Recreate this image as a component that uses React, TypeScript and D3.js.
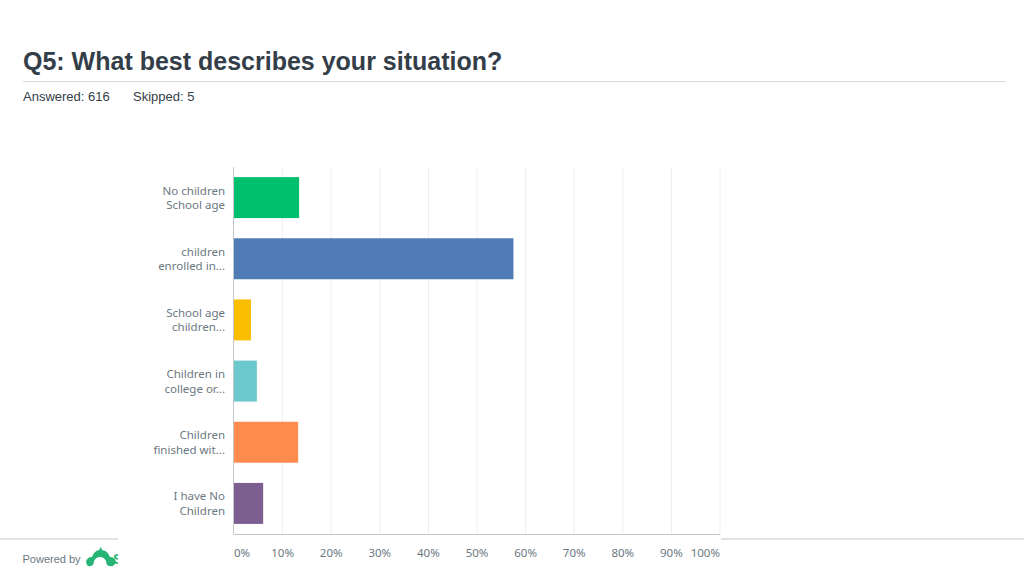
import * as d3 from 'd3';
import { useEffect, useRef } from 'react';

const categories = ['No children|School age', 'children|enrolled in...', 'School age|children...', 'Children in|college or...', 'Children|finished wit...', 'I have No|Children'];
const percents = [13.4, 57.5, 3.5, 4.7, 13.2, 6.0];
const barColors = ['#00bf6f', '#507cb6', '#f9be00', '#6bc8cd', '#ff8b4f', '#7d5e90'];
const ticks = [0, 10, 20, 30, 40, 50, 60, 70, 80, 90, 100];

const labelFont = '"Noto Sans", sans-serif';
const headFont = '"Liberation Sans", Arial, sans-serif';

export default function App() {
  const ref = useRef<SVGSVGElement>(null);

  useEffect(() => {
    const svg = d3.select(ref.current);
    svg.selectAll('*').remove();

    // Header
    svg.append('text').attr('x', 23).attr('y', 70)
      .attr('font-family', headFont).attr('font-size', 25).attr('font-weight', 700)
      .attr('fill', '#333e48').text('Q5: What best describes your situation?');
    svg.append('line').attr('x1', 23).attr('x2', 1006).attr('y1', 81.5).attr('y2', 81.5)
      .attr('stroke', '#d9d9d9');
    svg.append('text').attr('x', 23).attr('y', 101)
      .attr('font-family', headFont).attr('font-size', 13).attr('fill', '#333e48').text('Answered: 616');
    svg.append('text').attr('x', 133).attr('y', 101)
      .attr('font-family', headFont).attr('font-size', 13).attr('fill', '#333e48').text('Skipped: 5');

    // Footer
    svg.append('line').attr('x1', 0).attr('x2', 118).attr('y1', 539).attr('y2', 539)
      .attr('stroke', '#d9d9d9').attr('stroke-width', 1.5);
    svg.append('line').attr('x1', 721).attr('x2', 1024).attr('y1', 539).attr('y2', 539)
      .attr('stroke', '#d9d9d9').attr('stroke-width', 1.5);
    svg.append('text').attr('x', 22.5).attr('y', 563)
      .attr('font-family', headFont).attr('font-size', 11).attr('fill', '#6b787f').text('Powered by');

    const logo = svg.append('g').attr('fill', '#26b574');
    logo.append('path').attr('d', 'M86 562 q1 -5 6 -5 q2 -6 7 -7 l2 -3 l1 3 q6 1 8 7 q5 0 6 5 q-2 5 -6 4 q-4 0 -4 -5 q-2 -4 -6 -4 q-4 0 -6 4 q0 5 -4 5 q-3 1 -4 -4 z');
    svg.append('defs').append('clipPath').attr('id', 'logo-s')
      .append('rect').attr('x', 112).attr('y', 548).attr('width', 6).attr('height', 20);
    svg.append('text').attr('x', 113).attr('y', 564)
      .attr('clip-path', 'url(#logo-s)')
      .attr('font-family', headFont).attr('font-size', 14).attr('font-weight', 700)
      .attr('fill', '#26b574').text('S');

    // Chart
    const x = d3.scaleLinear().domain([0, 100]).range([234, 720]);
    const y = d3.scaleBand().domain(categories).range([167, 534]).paddingInner(0.33).paddingOuter(0.165);

    svg.append('g').selectAll('line').data(ticks.slice(1)).join('line')
      .attr('x1', d => x(d)).attr('x2', d => x(d)).attr('y1', 167).attr('y2', 534)
      .attr('stroke', '#eeeeee');

    svg.append('g').selectAll('rect').data(categories).join('rect')
      .attr('x', x(0))
      .attr('y', d => y(d))
      .attr('width', (_, i) => x(percents[i]) - x(0))
      .attr('height', y.bandwidth())
      .attr('fill', (_, i) => barColors[i]);

    svg.append('line').attr('x1', 233.5).attr('x2', 233.5).attr('y1', 167).attr('y2', 534)
      .attr('stroke', '#c4c8cb');
    svg.append('line').attr('x1', 233.5).attr('x2', 720).attr('y1', 534.5).attr('y2', 534.5)
      .attr('stroke', '#c4c8cb');

    // Category labels, two lines each
    const labels = svg.append('g').selectAll('text').data(categories).join('text')
      .attr('text-anchor', 'end')
      .attr('font-family', labelFont).attr('font-size', 11.5).attr('fill', '#6b787f');
    labels.each(function (d) {
      const mid = y(d)! + y.bandwidth() / 2;
      d3.select(this).selectAll('tspan').data(d.split('|')).join('tspan')
        .attr('x', 225)
        .attr('y', (_, i) => mid - 3 + i * 14.5)
        .text(t => t);
    });

    // Tick labels
    svg.append('g').selectAll('text').data(ticks).join('text')
      .attr('x', d => (d === 100 ? x(d) : x(d) + (d === 0 ? 8 : 0)))
      .attr('y', 557)
      .attr('text-anchor', d => (d === 100 ? 'end' : 'middle'))
      .attr('font-family', labelFont).attr('font-size', 11.5).attr('fill', '#6b787f')
      .text(d => `${d}%`);
  }, []);

  return (
    <svg ref={ref} width={1024} height={576}
      style={{ position: 'absolute', left: 0, top: 0, background: '#fff', display: 'block' }} />
  );
}
